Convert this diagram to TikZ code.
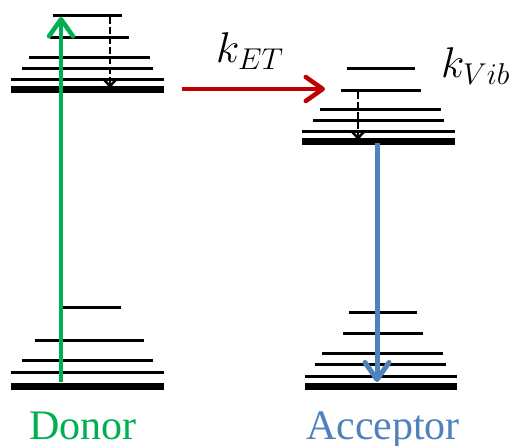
\RequirePackage{fix-cm}
\documentclass[tikz,border=0pt]{standalone}
\usepackage{fontspec}
\setmainfont{Liberation Serif}
\usetikzlibrary{arrows.meta}
\definecolor{dgreen}{HTML}{00B050}
\definecolor{dred}{HTML}{C00000}
\definecolor{dblue}{HTML}{4F81BD}
\begin{document}
\begin{tikzpicture}[x=1pt,y=-1pt,
  lvl/.style={line width=3pt},
  gnd/.style={line width=7pt},
  bigarrow/.style={line width=4.5pt,-{Straight Barb[length=17pt,width=24pt,round]}},
  relax/.style={line width=2.5pt,dash pattern=on 7pt off 3pt,-{Straight Barb[length=7pt,width=13pt]}},
  lbl/.style={inner sep=0pt,text depth=0pt,font=\fontsize{42}{48}\selectfont},
  klbl/.style={inner sep=0pt,font=\fontsize{43}{50}\selectfont}]
\path[use as bounding box] (0,0) rectangle (516,446);
% Donor upper levels
\draw[lvl] (53,16) -- (122,16);
\draw[lvl] (50,38) -- (129,38);
\draw[lvl] (29,58) -- (150,58);
\draw[lvl] (22,69) -- (153,69);
\draw[lvl] (11,80) -- (164,80);
\draw[gnd] (11,90) -- (164,90);
% Donor lower levels
\draw[lvl] (62,307) -- (121,307);
\draw[lvl] (35,340) -- (144,340);
\draw[lvl] (22,360) -- (153,360);
\draw[lvl] (11,372) -- (164,372);
\draw[gnd] (11,386) -- (164,386);
% Acceptor upper levels
\draw[lvl] (347,69) -- (415,69);
\draw[lvl] (341,91) -- (421,91);
\draw[lvl] (320,110) -- (441,110);
\draw[lvl] (313,121) -- (444,121);
\draw[lvl] (302,132) -- (455,132);
\draw[gnd] (302,142) -- (455,142);
% Acceptor lower levels
\draw[lvl] (349,312) -- (417,312);
\draw[lvl] (343,333) -- (423,333);
\draw[lvl] (322,353) -- (443,353);
\draw[lvl] (315,364) -- (446,364);
\draw[lvl] (305,376) -- (457,376);
\draw[gnd] (305,386) -- (457,386);
% coordinates
\coordinate (exS) at (61,382);
\coordinate (exE) at (61,17);
\coordinate (dvS) at (110,17);
\coordinate (dvE) at (110,88);
\coordinate (etS) at (182,89);
\coordinate (etE) at (325,89);
\coordinate (avS) at (358,92);
\coordinate (avE) at (358,140);
\coordinate (emS) at (377,143);
\coordinate (emE) at (377,382);
% arrows
\draw[bigarrow,dgreen] (exS) -- (exE);
\draw[relax] (dvS) -- (dvE);
\draw[bigarrow,dred] (etS) -- (etE);
\draw[relax] (avS) -- (avE);
\draw[bigarrow,dblue,line width=5pt] (emS) -- (emE);
% labels
\node[klbl,anchor=base west] (ket) at (216,63) {$k_{ET}$};
\node[klbl,anchor=base west] (kvib) at (441,78) {$k_{Vib}$};
\node[lbl,anchor=base,text=dgreen] (donor) at (83,439) {Donor};
\node[lbl,anchor=base,text=dblue] (acc) at (383,439) {Acceptor};
\end{tikzpicture}
\end{document}
